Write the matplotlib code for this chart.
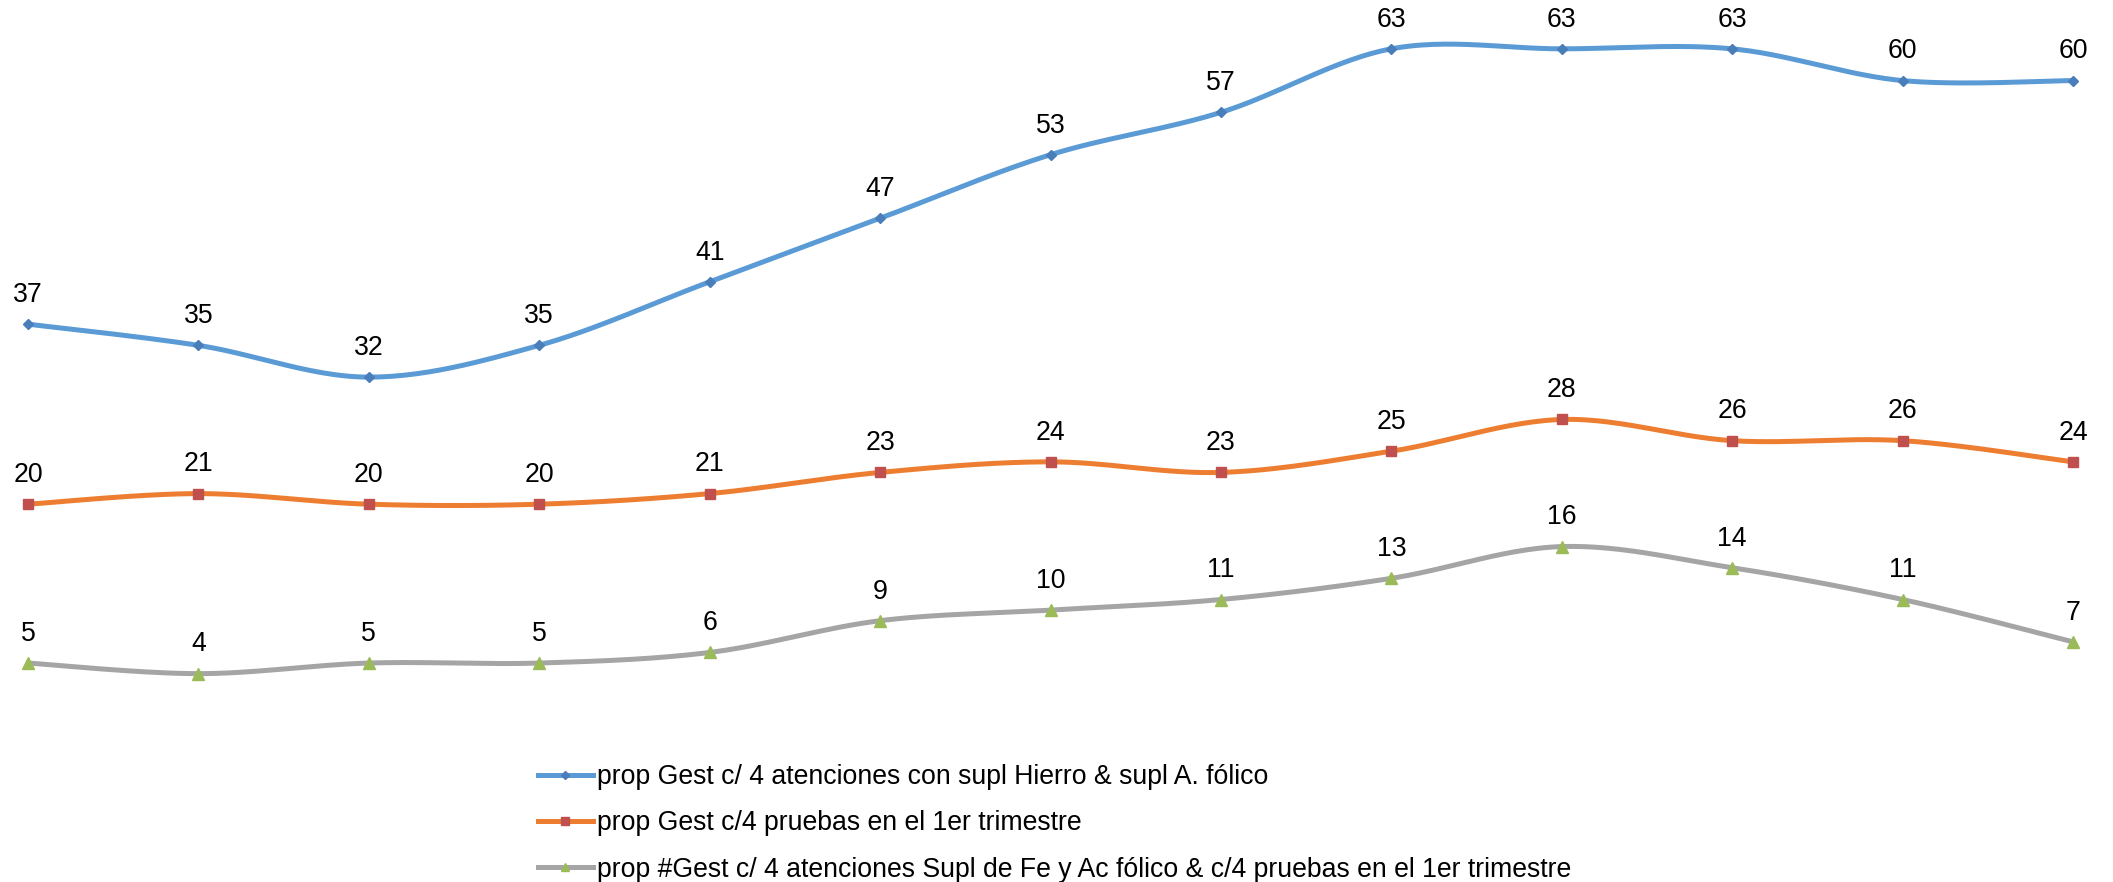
import numpy as np
import matplotlib
matplotlib.use("Agg")
import matplotlib.pyplot as plt
from matplotlib.lines import Line2D

plt.rcParams['font.family'] = ['Liberation Sans', 'DejaVu Sans']

x_idx = list(range(13))
series_names = [
    "prop Gest c/ 4 atenciones con supl Hierro & supl A. fólico",
    "prop Gest c/4 pruebas en el 1er trimestre",
    "prop #Gest c/ 4 atenciones Supl de Fe y Ac fólico & c/4 pruebas en el 1er trimestre",
]
blue_vals = [37, 35, 32, 35, 41, 47, 53, 57, 63, 63, 63, 60, 60]
orange_vals = [20, 21, 20, 20, 21, 23, 24, 23, 25, 28, 26, 26, 24]
gray_vals = [5, 4, 5, 5, 6, 9, 10, 11, 13, 16, 14, 11, 7]

line_colors = ["#5B9BD5", "#ED7D31", "#A5A5A5"]
marker_colors = ["#4A7EBB", "#C0504D", "#9BBB59"]
markers = ["D", "s", "^"]
msizes = [5, 7, 8]


def smooth(xs, ys, n=30):
    xs = np.asarray(xs, float); ys = np.asarray(ys, float)
    P = np.column_stack([xs, ys])
    out = []
    for i in range(len(P) - 1):
        p0 = P[i - 1] if i > 0 else P[i]
        p1 = P[i]; p2 = P[i + 1]
        p3 = P[i + 2] if i + 2 < len(P) else P[i + 1]
        c1 = p1 + (p2 - p0) / 6.0
        c2 = p2 - (p3 - p1) / 6.0
        t = np.linspace(0, 1, n)[:, None]
        seg = ((1 - t) ** 3) * p1 + 3 * ((1 - t) ** 2) * t * c1 + 3 * (1 - t) * t ** 2 * c2 + t ** 3 * p2
        out.append(seg if i == 0 else seg[1:])
    out = np.vstack(out)
    return out[:, 0], out[:, 1]


W, H = 2113, 882
fig = plt.figure(figsize=(W / 100, H / 100), dpi=100)
left_px, right_px = 28, 2073
y0_px = 716
unit_px = 10.59
ymax = 65
ax = fig.add_axes([left_px / W, 1 - y0_px / H, (right_px - left_px) / W, ymax * unit_px / H])
ax.set_xlim(0, 12)
ax.set_ylim(0, ymax)
ax.axis('off')

FS = 19.2
handles = []
for vals, lc, mc, mk, ms, name in zip([blue_vals, orange_vals, gray_vals], line_colors, marker_colors, markers, msizes, series_names):
    sx, sy = smooth(x_idx, vals)
    ax.plot(sx, sy, color=lc, lw=3.6, clip_on=False, solid_capstyle='round', zorder=2)
    ax.plot(x_idx, vals, linestyle='none', marker=mk, markersize=ms, color=mc, markeredgecolor=mc, clip_on=False, zorder=3)
    for xi, v in zip(x_idx, vals):
        ax.annotate(str(v), (xi, v), xytext=(0, 21), textcoords='offset points', ha='center', va='center', fontsize=FS, color='black')
    handles.append(Line2D([0], [0], color=lc, lw=3.6, marker=mk, markersize=ms * 0.8, markerfacecolor=mc, markeredgecolor=mc))

leg = fig.legend(handles, series_names, loc='upper left', bbox_to_anchor=(538 / W, 1 - 764 / H), frameon=False,
                 fontsize=FS, handlelength=2.05, handletextpad=0.15, labelspacing=0.76, borderpad=0, borderaxespad=0)

fig.savefig("out.png", dpi=100, facecolor='white')
